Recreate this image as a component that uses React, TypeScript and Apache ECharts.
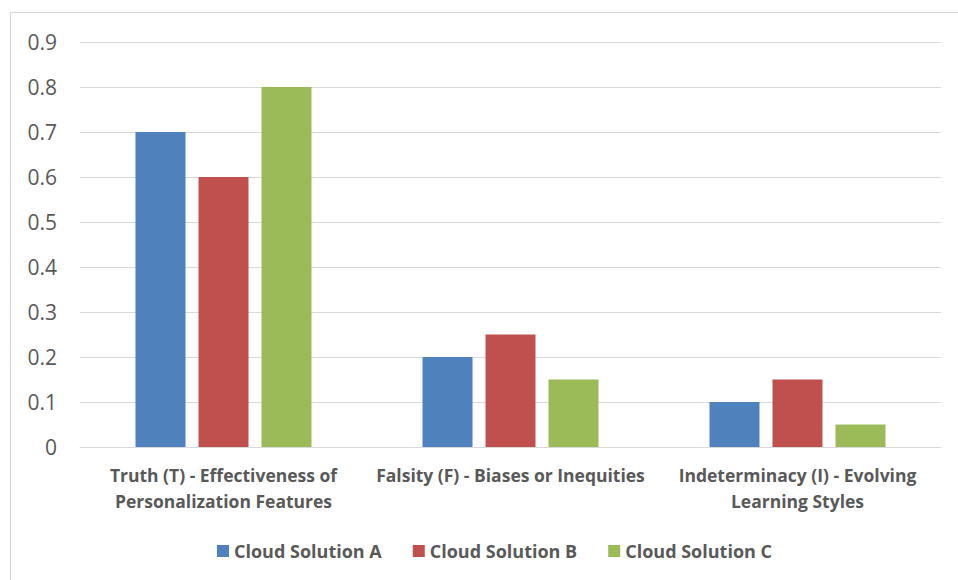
import React, { useEffect, useRef } from "react";
import * as echarts from "echarts";

const categories = [
  "Truth (T) - Effectiveness of\nPersonalization Features",
  "Falsity (F) - Biases or Inequities",
  "Indeterminacy (I) - Evolving\nLearning Styles",
];
const seriesNames = ["Cloud Solution A", "Cloud Solution B", "Cloud Solution C"];
const solutionA = [0.7, 0.2, 0.1];
const solutionB = [0.6, 0.25, 0.15];
const solutionC = [0.8, 0.15, 0.05];
const colors = ["#4F81BD", "#C0504D", "#9BBB59"];

const FONT = "'Open Sans', sans-serif";
const TEXT = "#595959";

export default function App() {
  const ref = useRef<HTMLDivElement>(null);

  useEffect(() => {
    if (!ref.current) return;
    const chart = echarts.init(ref.current, undefined, { renderer: "svg" });
    const values = [solutionA, solutionB, solutionC];
    chart.setOption({
      animation: false,
      backgroundColor: "#ffffff",
      color: colors,
      graphic: [
        {
          type: "rect",
          shape: { x: 10.5, y: 12.5, width: 960, height: 600 },
          style: { fill: "none", stroke: "#D9D9D9", lineWidth: 1 },
          silent: true,
        },
      ],
      grid: { left: 80, right: 17, top: 42, bottom: 133, containLabel: false },
      legend: {
        bottom: 15,
        left: 212,
        itemWidth: 12,
        itemHeight: 12,
        itemGap: 31,
        icon: "rect",
        textStyle: { color: TEXT, fontFamily: FONT, fontSize: 18, fontWeight: "bold" },
        data: seriesNames,
      },
      xAxis: {
        type: "category",
        data: categories,
        axisLine: { lineStyle: { color: "#D9D9D9" } },
        axisTick: { show: false },
        axisLabel: {
          color: TEXT,
          fontFamily: FONT,
          fontSize: 17.5,
          fontWeight: "bold",
          lineHeight: 26,
          margin: 15,
          interval: 0,
        },
      },
      yAxis: {
        type: "value",
        min: 0,
        max: 0.9,
        interval: 0.1,
        axisLine: { show: false },
        axisTick: { show: false },
        splitLine: { lineStyle: { color: "#D9D9D9", width: 1 } },
        axisLabel: {
          color: TEXT,
          fontFamily: FONT,
          fontSize: 21,
          margin: 23,
          formatter: (v: number) => (Math.round(v * 10) / 10).toString(),
        },
      },
      series: seriesNames.map((name, i) => ({
        name,
        type: "bar",
        data: values[i],
        barWidth: 50,
        barGap: "26%",
        itemStyle: { color: colors[i] },
      })),
    });
    return () => chart.dispose();
  }, []);

  return (
    <div
      ref={ref}
      style={{ position: "absolute", left: 0, top: 0, width: 958, height: 580 }}
    />
  );
}
